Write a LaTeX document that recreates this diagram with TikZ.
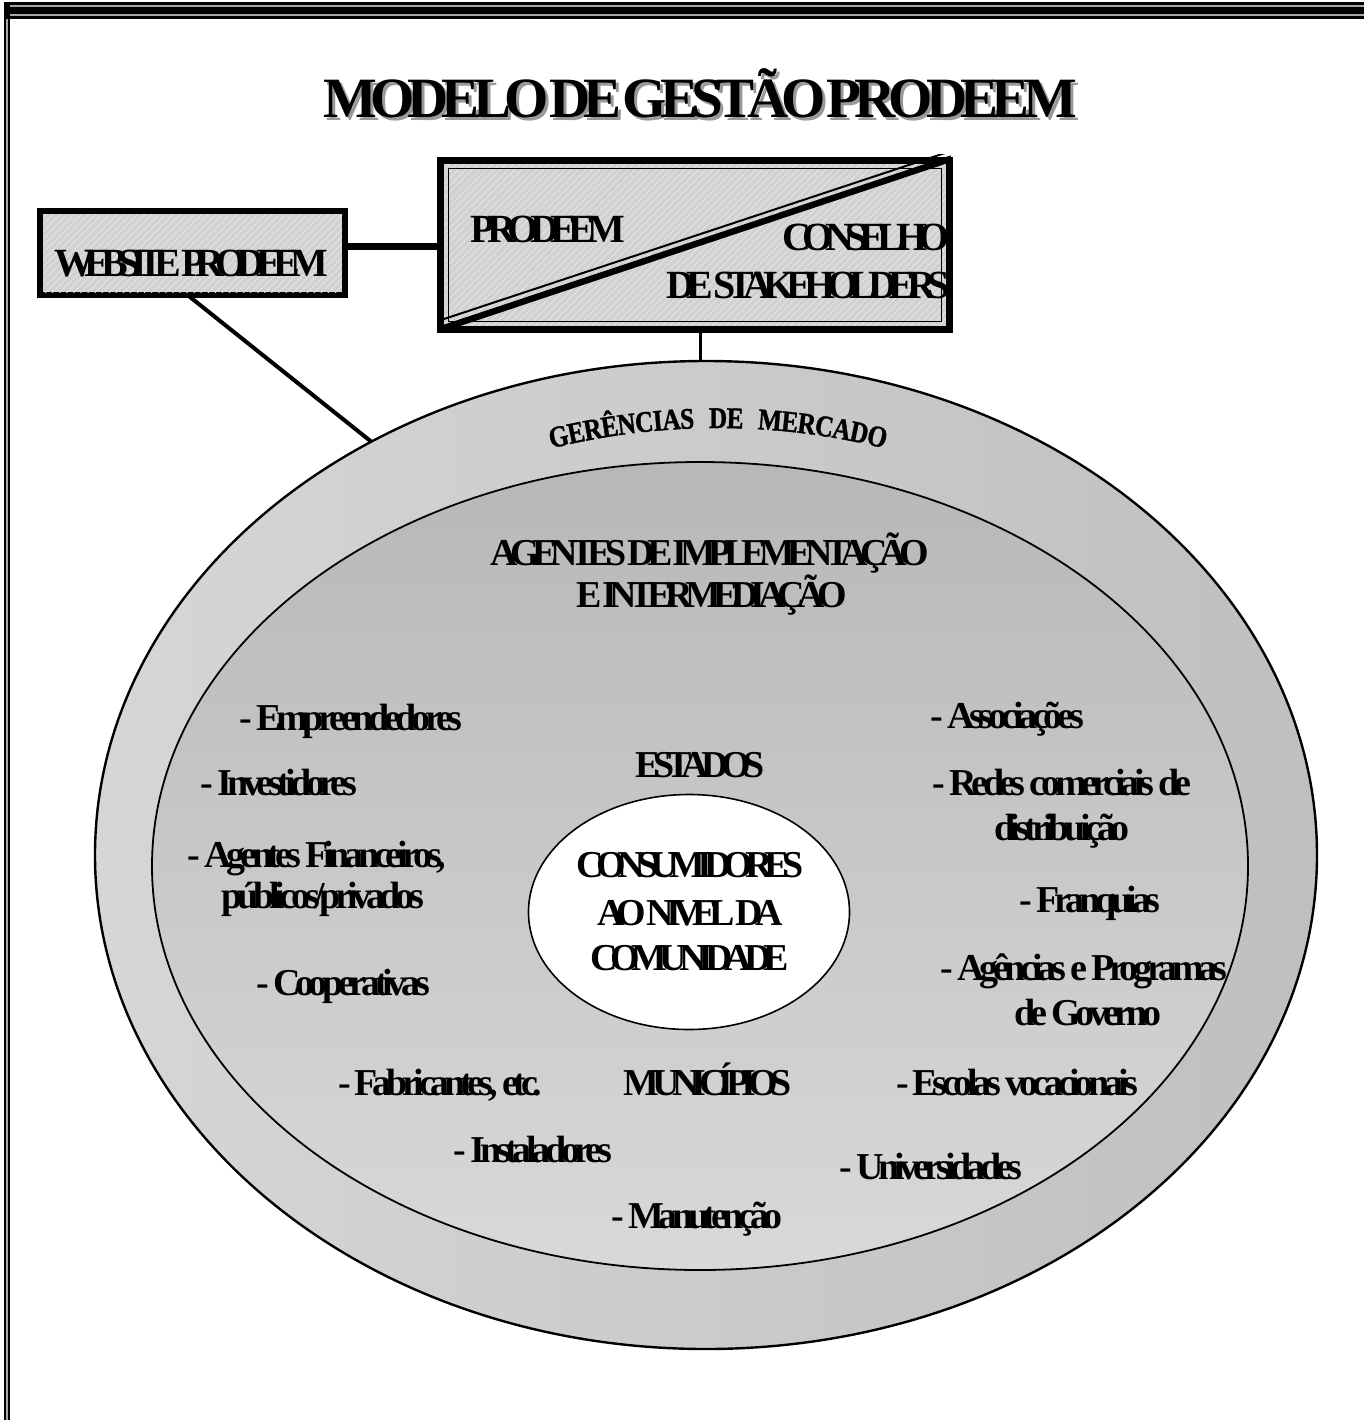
\documentclass[tikz,border=0pt]{standalone}
\usepackage{fontspec}
\setmainfont{Liberation Serif}
\newfontfamily\ftitle[LetterSpace=-12, WordSpace=0.1]{Liberation Serif}
\newfontfamily\fbx[LetterSpace=-21, WordSpace=0.3]{Liberation Serif}
\newfontfamily\fweb[LetterSpace=-24, WordSpace=0.2]{Liberation Serif}
\newfontfamily\fup[LetterSpace=-20, WordSpace=0.3]{Liberation Serif}
\newfontfamily\flist[LetterSpace=-14]{Liberation Serif}
\newfontfamily\fger[FakeStretch=0.84, FakeBold=1.2]{Liberation Serif Bold}
\usetikzlibrary{shapes.geometric,calc,patterns.meta}
\definecolor{boxgray}{gray}{0.82}
\begin{document}
\begin{tikzpicture}[x=0.5pt,y=-0.5pt,
  lbl/.style={font=\flist\bfseries\fontsize{19}{22}\selectfont, anchor=base, inner sep=0},
  upl/.style={font=\fup\bfseries\fontsize{19}{22}\selectfont, anchor=base, inner sep=0},
  bxt/.style={font=\fbx\bfseries\fontsize{20}{22}\selectfont, anchor=base, inner sep=0},
  ctr/.style={font=\fbx\bfseries\fontsize{19}{22}\selectfont, anchor=base, inner sep=0},
  arcch/.style={font=\fger\fontsize{15}{15}\selectfont, anchor=base, inner sep=0},
  hatch/.style={pattern={Lines[angle=45,distance=2.5pt,line width=0.35pt]}, pattern color=black!9}]
\useasboundingbox (0,0) rectangle (1364,1420);
\fill[white] (0,0) rectangle (1364,1420);
% page border
\fill[black] (4,2) rectangle (1364,19);
\fill[black!35] (4,5) rectangle (1364,6.5);
\fill[black!35] (4,14) rectangle (1364,15.5);
\fill[black] (4,2) rectangle (10,1420);
\fill[black!35] (6,19) rectangle (8,1420);
% title
\node[font=\ftitle\bfseries\fontsize{28.5}{30}\selectfont, text=black!40, anchor=base, inner sep=0] (titles) at (703,120) {MODELO DE GESTÃO PRODEEM};
\node[font=\ftitle\bfseries\fontsize{28.5}{30}\selectfont, anchor=base, inner sep=0] (title) at (700,117) {MODELO DE GESTÃO PRODEEM};
% ellipses
\node[ellipse, draw=black, line width=1.2pt, left color=black!16, right color=black!25, minimum width=611pt, minimum height=494pt, inner sep=0, outer sep=0] (outer) at (706,855) {};
\node[ellipse, draw=black, line width=0.9pt, top color=black!28, bottom color=black!15, minimum width=548pt, minimum height=404pt, inner sep=0, outer sep=0] (inner) at (700,866) {};
\node[ellipse, draw=black, line width=0.8pt, fill=white, minimum width=160.5pt, minimum height=117.5pt, inner sep=0, outer sep=0] (cons) at (689,912) {};
% boxes
\node[draw=black, line width=3pt, fill=boxgray, minimum width=152.5pt, minimum height=42pt, inner sep=0, outer sep=0] (web) at (192.5,253) {};
\fill[hatch] ($(web.south west)+(3,-3)$) rectangle ($(web.north east)+(-3,3)$);
\node[draw=black, line width=3.5pt, fill=boxgray, minimum width=254.5pt, minimum height=84.5pt, inner sep=0, outer sep=0] (prod) at (695,245) {};
\fill[hatch] ($(prod.south west)+(4,-4)$) rectangle ($(prod.north east)+(-4,4)$);
\draw[line width=0.8pt] ($(prod.south west)+(8,-8)$) rectangle ($(prod.north east)+(-8,8)$);
\begin{scope}
\clip ($(prod.south west)+(-4,4)$) rectangle ($(prod.north east)+(4,-6)$);
\draw[line width=3.2pt] ($(prod.south west)+(2,-1)$) -- ($(prod.north east)+(2,-2)$);
\draw[line width=1pt] ($(prod.south west)+(-1,-9)$) -- ($(prod.north east)+(-3,-8)$);
\end{scope}
% connectors
\coordinate (lnk) at (0,246);
\draw[line width=3.5pt] (web.east |- lnk) -- (prod.west |- lnk);
\draw[line width=2pt] ($(web.south)+(-5,0)$) -- (outer.129.5);
\draw[line width=1.5pt] (prod.south -| 700,0) -- (outer.north -| 700,0);
% box texts
\node[font=\fweb\bfseries\fontsize{20}{22}\selectfont, anchor=base, inner sep=0] (tweb) at (191,276) {WEBSITE PRODEEM};
\node[bxt] (tprod) at (548,242) {PRODEEM};
\node[bxt] (tcons) at (866,250) {CONSELHO};
\node[bxt] (tstk) at (808,298) {DE STAKEHOLDERS};
% arc text: GERÊNCIAS DE MERCADO
\coordinate (arcc) at (718,1119);
\foreach \ch/\d [count=\i] in {G/-158.55, E/-141, R/-124.15, Ê/-107.3, N/-90.45, C/-72.95, I/-59.45, A/-45.95, S/-30.45, D/0.05, E/16.9, M/51.45, E/71, R/87.85, C/105.35, A/122.85, D/140.35, O/158.55}{
  \pgfmathsetmacro\ang{\d*0.08292}
  \node[arcch, rotate=-\ang] (ger\i) at ($(arcc)+(\ang-90:691)$) {\ch};
}
% inner texts
\node[upl] (ag1) at (710,565) {AGENTES DE IMPLEMENTAÇÃO};
\node[upl] (ag2) at (712,607) {E INTERMEDIAÇÃO};
\node[lbl] (emp) at (351,730) {- Empreendedores};
\node[lbl] (inv) at (279,795) {- Investidores};
\node[lbl] (agf1) at (317,867) {- Agentes Financeiros,};
\node[lbl] (agf2) at (323,908) {públicos/privados};
\node[lbl] (coop) at (343,995) {- Cooperativas};
\node[lbl] (fab) at (440,1095) {- Fabricantes, etc.};
\node[lbl] (inst) at (533,1162) {- Instaladores};
\node[lbl] (man) at (697,1228) {- Manutenção};
\node[upl] (est) at (700,777) {ESTADOS};
\node[upl] (mun) at (708,1095) {MUNICÍPIOS};
\node[lbl] (ass) at (1007,728) {- Associações};
\node[lbl] (red1) at (1062,795) {- Redes comerciais de};
\node[lbl] (red2) at (1062,840) {distribuição};
\node[lbl] (fra) at (1090,912) {- Franquias};
\node[lbl] (agp1) at (1084,980) {- Agências e Programas};
\node[lbl] (agp2) at (1088,1025) {de Governo};
\node[lbl] (esc) at (1017,1095) {- Escolas vocacionais};
\node[lbl] (uni) at (931,1179) {- Universidades};
\node[ctr] (c1) at (690,877) {CONSUMIDORES};
\node[ctr] (c2) at (690,925) {AO NIVEL DA};
\node[ctr] (c3) at (690,970) {COMUNIDADE};
\end{tikzpicture}
\end{document}
